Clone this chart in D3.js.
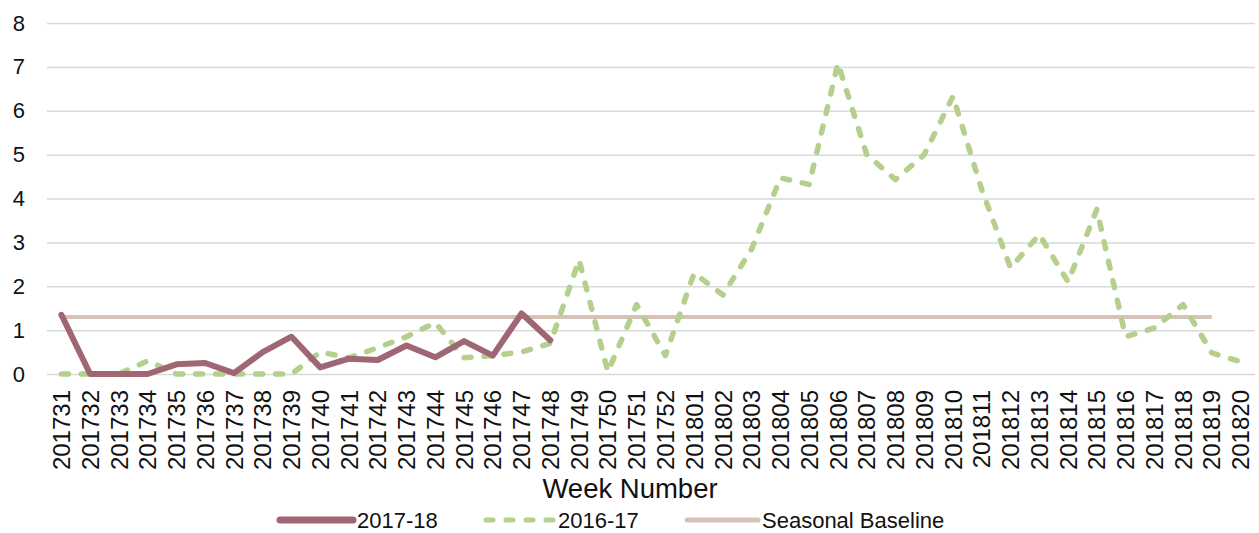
<!DOCTYPE html>
<html>
<head>
<meta charset="utf-8">
<script src="https://cdn.jsdelivr.net/npm/d3@7"></script>
<style>
  body { margin: 0; background: #fff; }
  svg { display: block; font-family: "Liberation Sans", Arial, sans-serif; }
</style>
</head>
<body>
<svg></svg>
<script>
const weeks = [
  "201731", "201732", "201733", "201734", "201735", "201736", "201737", "201738",
  "201739", "201740", "201741", "201742", "201743", "201744", "201745", "201746",
  "201747", "201748", "201749", "201750", "201751", "201752", "201801", "201802",
  "201803", "201804", "201805", "201806", "201807", "201808", "201809", "201810",
  "201811", "201812", "201813", "201814", "201815", "201816", "201817", "201818",
  "201819", "201820"
];
// 2017-18 season, reported up to week 48
const season1718 = [1.35, 0, 0, 0, 0.22, 0.25, 0.02, 0.5, 0.85, 0.15, 0.35, 0.32,
  0.65, 0.38, 0.75, 0.42, 1.38, 0.77];
const season1617 = [0, 0, 0, 0.3, 0, 0, 0, 0, 0, 0.5, 0.37, 0.6, 0.85, 1.17, 0.37,
  0.42, 0.5, 0.7, 2.6, 0.05, 1.58, 0.42, 2.3, 1.8, 2.85, 4.47, 4.32, 7.08, 5.0, 4.43,
  5.0, 6.33, 4.2, 2.42, 3.18, 2.1, 3.75, 0.85, 1.05, 1.58, 0.48, 0.28];
const baselineValue = 1.3;
const baselineWeeks = weeks.slice(0, 41); // runs to 201819
const yTicks = [0, 1, 2, 3, 4, 5, 6, 7, 8];

const W = 1259, H = 533;
const plotLeft = 47, plotRight = 1255, plotTop = 23, plotBottom = 374;

const svg = d3.select("svg").attr("width", W).attr("height", H);

const x = d3.scaleBand().domain(weeks).range([plotLeft, plotRight]);
const y = d3.scaleLinear().domain([0, 8]).range([plotBottom, plotTop]);
const cx = d => x(d) + x.bandwidth() / 2;

// grid + y labels
svg.append("g")
  .attr("transform", `translate(${plotLeft},0)`)
  .call(d3.axisLeft(y).tickValues(yTicks).tickSize(-(plotRight - plotLeft)).tickPadding(22).tickFormat(d3.format("d")))
  .call(g => g.select(".domain").remove())
  .call(g => g.selectAll("line").attr("stroke", "#d9d9d9").attr("stroke-width", 1.5))
  .call(g => g.selectAll("text").attr("fill", "#111").style("font-size", "22px"));

// x labels
svg.append("g")
  .attr("transform", `translate(0,${plotBottom})`)
  .call(d3.axisBottom(x).tickSize(0))
  .call(g => g.select(".domain").remove())
  .call(g => g.selectAll("text")
    .attr("fill", "#111")
    .style("font-size", "24px")
    .style("text-anchor", "end")
    .attr("transform", "rotate(-90)")
    .attr("x", -16)
    .attr("y", 0)
    .attr("dy", "0.36em"));

svg.append("text")
  .attr("x", 630)
  .attr("y", 498)
  .attr("text-anchor", "middle")
  .attr("fill", "#111")
  .style("font-size", "27.5px")
  .text("Week Number");

const line = d3.line().x(d => cx(d[0])).y(d => y(d[1]));

// seasonal baseline
svg.append("path")
  .datum(baselineWeeks.map(w => [w, baselineValue]))
  .attr("d", line)
  .attr("fill", "none")
  .attr("stroke", "#d6c3b5")
  .attr("stroke-width", 4);

// 2016-17
svg.append("path")
  .datum(weeks.map((w, i) => [w, season1617[i]]))
  .attr("d", line)
  .attr("fill", "none")
  .attr("stroke", "#b5cf8c")
  .attr("stroke-width", 5.5)
  .attr("stroke-linecap", "round")
  .attr("stroke-linejoin", "round")
  .attr("stroke-dasharray", "7,13");

// 2017-18
svg.append("path")
  .datum(season1718.map((v, i) => [weeks[i], v]))
  .attr("d", line)
  .attr("fill", "none")
  .attr("stroke", "#9f6773")
  .attr("stroke-width", 6)
  .attr("stroke-linecap", "round")
  .attr("stroke-linejoin", "round");

// legend
const legendItems = [
  { name: "2017-18", color: "#9f6773", width: 7, dash: null, x0: 280, len: 73 },
  { name: "2016-17", color: "#b5cf8c", width: 5, dash: "7,13", x0: 486, len: 67 },
  { name: "Seasonal Baseline", color: "#d6c3b5", width: 5, dash: null, x0: 687, len: 71 }
];
const lg = svg.append("g").selectAll("g").data(legendItems).join("g")
  .attr("transform", d => `translate(${d.x0},520)`);
lg.append("line")
  .attr("x1", 0).attr("x2", d => d.len)
  .attr("stroke", d => d.color)
  .attr("stroke-width", d => d.width)
  .attr("stroke-linecap", "round")
  .attr("stroke-dasharray", d => d.dash);
lg.append("text")
  .attr("x", d => d.len + (d.dash ? 5 : 4))
  .attr("y", 8)
  .attr("fill", "#111")
  .style("font-size", "22px")
  .text(d => d.name);
</script>
</body>
</html>
